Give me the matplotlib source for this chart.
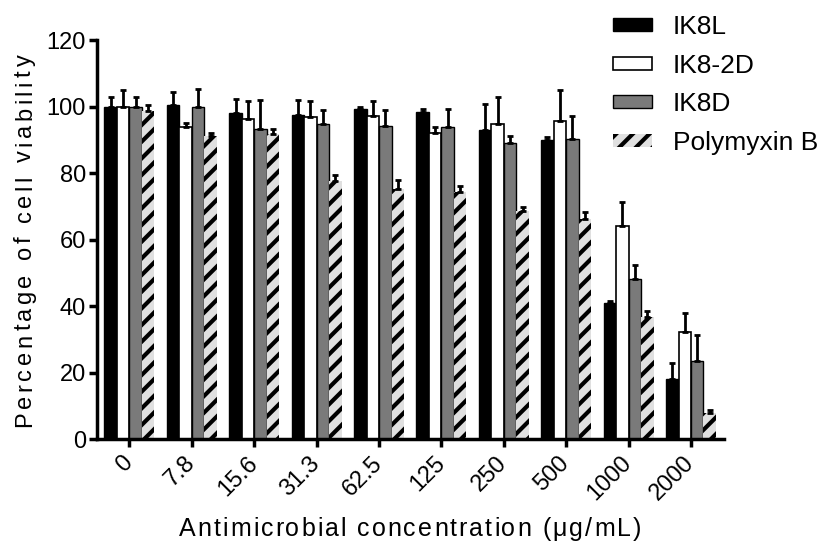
import numpy as np
import matplotlib.pyplot as plt
from matplotlib.font_manager import FontProperties, findfont, get_font
from matplotlib.transforms import ScaledTranslation

plt.rcParams["font.family"] = ["Liberation Sans", "DejaVu Sans"]
plt.rcParams["hatch.linewidth"] = 3.0

##### data
concentrations = ['0', '7.8', '15.6', '31.3', '62.5', '125', '250', '500', '1000', '2000']
series_names = ['IK8L', 'IK8-2D', 'IK8D', 'Polymyxin B']

ik8l = [100.0, 100.4, 98.1, 97.6, 99.3, 98.4, 92.9, 90.0, 40.9, 18.0]
ik8l_err = [3.0, 4.0, 4.1, 4.5, 0.5, 0.9, 7.8, 1.0, 0.7, 4.8]
ik8_2d = [100.0, 94.0, 96.3, 96.9, 97.3, 92.0, 94.9, 95.7, 64.2, 32.3]
ik8_2d_err = [5.0, 1.1, 5.3, 4.8, 4.4, 1.9, 8.0, 9.2, 7.0, 5.5]
ik8d = [100.0, 100.0, 93.4, 94.9, 94.1, 93.8, 89.0, 90.3, 48.1, 23.5]
ik8d_err = [3.0, 5.4, 8.5, 4.0, 4.8, 5.5, 2.2, 7.0, 4.2, 7.9]
polymyxin = [98.6, 91.1, 91.9, 77.7, 75.2, 74.4, 68.7, 66.1, 36.6, 7.9]
polymyxin_err = [2.0, 1.0, 1.3, 1.7, 2.8, 1.6, 1.0, 2.3, 1.8, 0.7]

DPI = 100


def tracked_text(fig, s, x_px, y_px, size, track_px, vertical=False):
    """Write s one character at a time with extra letter spacing.
    x_px, y_px: middle of the string along its baseline, pixels from bottom-left."""
    prop = FontProperties(family='Liberation Sans', size=size)
    font = get_font(findfont(prop))
    font.set_size(size, DPI)
    advances = []
    for c in s:
        g = font.load_char(ord(c))
        advances.append(g.linearHoriAdvance / 65536)
    total = sum(advances) + track_px * (len(s) - 1)
    pos = -total / 2
    W, H = fig.bbox.width, fig.bbox.height
    for c, adv in zip(s, advances):
        mid = pos + adv / 2
        if vertical:
            fig.text(x_px / W, (y_px + mid) / H, c, fontproperties=prop, rotation=90,
                     rotation_mode='anchor', ha='center', va='baseline')
        else:
            fig.text((x_px + mid) / W, y_px / H, c, fontproperties=prop,
                     ha='center', va='baseline')
        pos += adv + track_px


fig = plt.figure(figsize=(8.2, 5.43), dpi=DPI)
ax = fig.add_axes([0.1183, 0.1915, 0.7647, 0.7345])

x = np.arange(len(concentrations))
width = 0.2
offsets = np.array([-1.5, -0.5, 0.5, 1.5]) * width

styles = [
    dict(color='black', edgecolor='black', linewidth=1.0),
    dict(color='white', edgecolor='black', linewidth=1.2),
    dict(color='#7a7a7a', edgecolor='black', linewidth=1.0),
    dict(color='#e0e0e0', edgecolor='black', linewidth=0, hatch='//'),
]
values = [ik8l, ik8_2d, ik8d, polymyxin]
errors = [ik8l_err, ik8_2d_err, ik8d_err, polymyxin_err]

handles = []
for off, vals, errs, st, name in zip(offsets, values, errors, styles, series_names):
    b = ax.bar(x + off, vals, width, label=name, zorder=2, **st)
    ax.errorbar(x + off, vals, yerr=[np.zeros(len(errs)), errs], fmt='none',
                ecolor='black', elinewidth=2, capsize=2.5, capthick=2, zorder=3)
    handles.append(b)

ax.set_xlim(-0.52, 9.53)
ax.set_ylim(0, 120)
ax.set_yticks(np.arange(0, 121, 20))
ax.set_xticks(x)
ax.set_xticklabels(concentrations, rotation=45, ha='right', va='center',
                   rotation_mode='anchor', fontsize=17)
shift = ScaledTranslation(5 / 72, 0, fig.dpi_scale_trans)
for lbl in ax.get_xticklabels():
    lbl.set_transform(lbl.get_transform() + shift)
ax.tick_params(axis='y', labelsize=17, width=2.5, length=6, pad=2)
ax.tick_params(axis='x', width=2.5, length=6, pad=9)

for s in ['top', 'right']:
    ax.spines[s].set_visible(False)
for s in ['left', 'bottom']:
    ax.spines[s].set_linewidth(2.5)

#### axis titles with wide letter spacing as in the original
tracked_text(fig, 'Percentage of cell viability', 31, 543 - 241, 17, 3.7, vertical=True)
tracked_text(fig, 'Antimicrobial concentration (μg/mL)', 410, 543 - 536, 18, 2.0)

fig.legend(handles=handles, loc='upper left', bbox_to_anchor=(0.748, 0.972),
           frameon=False, fontsize=19, handlelength=1.45, handleheight=0.4,
           labelspacing=0.55, handletextpad=0.8, borderpad=0, borderaxespad=0)

fig.savefig('out.png', dpi=DPI)
